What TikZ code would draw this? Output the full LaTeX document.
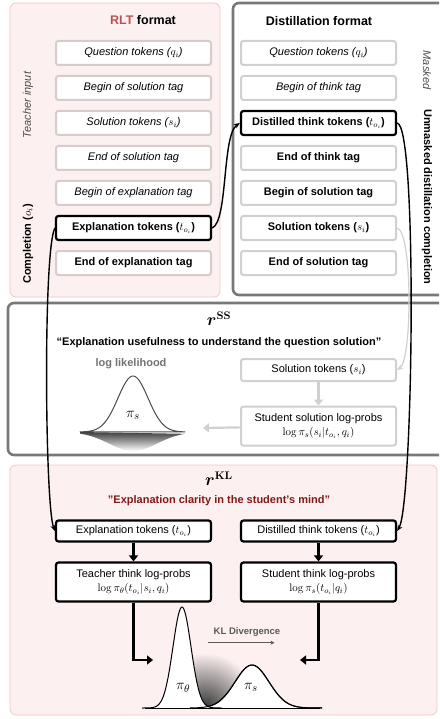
\documentclass[tikz,border=0pt]{standalone}
\usepackage{amsmath,amssymb}
\usepackage[no-math]{fontspec}
\setmainfont{Liberation Sans}
\usetikzlibrary{arrows.meta,positioning,calc}
\definecolor{rltpink}{RGB}{252,240,240}
\definecolor{rltedge}{RGB}{240,200,200}
\definecolor{rltred}{RGB}{192,80,77}
\definecolor{quotered}{RGB}{130,25,25}
\definecolor{panelgray}{RGB}{120,120,120}
\definecolor{boxgray}{RGB}{208,208,208}
\definecolor{rltboxgray}{RGB}{214,204,204}
\definecolor{softgray}{RGB}{115,115,115}
\tikzset{
  rltpanel/.style={draw=rltedge, fill=rltpink, line width=0.8pt, rounded corners=6pt},
  graypanel/.style={draw=panelgray, fill=white, line width=2.6pt, rounded corners=6pt},
  tokbox/.style={draw=boxgray, fill=white, line width=2pt, rounded corners=2.5pt,
    minimum width=155pt, minimum height=24pt, inner sep=1pt,
    font=\fontsize{11}{13}\selectfont},
  itbox/.style={tokbox, font=\itshape\fontsize{11}{13}\selectfont},
  bfbox/.style={tokbox, font=\bfseries\fontsize{11}{13}\selectfont},
  keybox/.style={draw=black, line width=2.2pt},
  klbox/.style={tokbox, draw=black, line width=2.2pt, minimum height=21pt},
  titletxt/.style={inner sep=0pt, font=\bfseries\fontsize{12.5}{14}\selectfont},
  quotetxt/.style={inner sep=0pt, font=\bfseries\fontsize{11}{13}\selectfont},
  sidetxt/.style={inner sep=0pt, font=\fontsize{11}{13}\selectfont},
  rtxt/.style={inner sep=0pt, font=\fontsize{16}{18}\selectfont},
  pitxt/.style={inner sep=0pt, font=\fontsize{15}{17}\selectfont},
  link/.style={-{Stealth[length=6pt,width=5pt]}, line width=1.4pt, black},
  softlink/.style={-{Stealth[length=6pt,width=5pt]}, line width=1.2pt, boxgray},
  grayarr/.style={-{Triangle[length=6pt,width=9pt]}, line width=2.2pt, boxgray},
  blackarr/.style={-{Triangle[length=6pt,width=9pt]}, line width=2.2pt, black},
  bellln/.style={line width=1pt, line join=round},
}

\begin{document}
\begin{tikzpicture}[x=1pt, y=-1pt]
  \clip (0,0) rectangle (439,719);
  % Panels
  \draw[rltpanel] (10,3) rectangle (220,297);
  \draw[graypanel] (233,3) rectangle (470,295);
  \draw[graypanel] (8,303) rectangle (470,455);
  \draw[rltpanel] (10,465) rectangle (437,715);

  % RLT format column
  \node[titletxt] (rlt-title) at (143,20) {\textcolor{rltred}{RLT} format};
  \node[itbox, draw=rltboxgray] (rlt-q) at (133.5,53) {Question tokens ($q_i$)};
  \node[itbox, draw=rltboxgray] (rlt-bsol) at (133.5,88) {Begin of solution tag};
  \node[itbox, draw=rltboxgray] (rlt-sol) at (133.5,123) {Solution tokens ($s_i$)};
  \node[itbox, draw=rltboxgray] (rlt-esol) at (133.5,158) {End of solution tag};
  \node[itbox, draw=rltboxgray] (rlt-bexp) at (133.5,193) {Begin of explanation tag};
  \node[bfbox, keybox] (rlt-expl) at (133.5,228) {Explanation tokens ($t_{o_i}$)};
  \node[bfbox, draw=rltboxgray] (rlt-eexp) at (133.5,263) {End of explanation tag};
  \node[sidetxt, rotate=90, font=\itshape\fontsize{11}{13}\selectfont, text=black!70] (lbl-teacher) at (28,105) {Teacher input};
  \node[sidetxt, rotate=90, font=\bfseries\fontsize{11}{13}\selectfont] (lbl-compl) at (28,244) {Completion ($o_i$)};

  % Distillation format column
  \node[titletxt] (dist-title) at (319,21) {Distillation format};
  \node[itbox] (dist-q) at (318.5,53) {Question tokens ($q_i$)};
  \node[itbox] (dist-bthink) at (318.5,88) {Begin of think tag};
  \node[bfbox, keybox] (dist-think) at (318.5,123) {Distilled think tokens ($t_{o_i}$)};
  \node[bfbox] (dist-ethink) at (318.5,158) {End of think tag};
  \node[bfbox] (dist-bsol) at (318.5,193) {Begin of solution tag};
  \node[bfbox] (dist-sol) at (318.5,228) {Solution tokens ($s_i$)};
  \node[bfbox] (dist-esol) at (318.5,263) {End of solution tag};
  \node[sidetxt, rotate=-90, font=\itshape\fontsize{11}{13}\selectfont, text=black!70] (lbl-masked) at (427,70) {Masked};
  \node[sidetxt, rotate=-90, font=\bfseries\fontsize{11}{13}\selectfont] (lbl-unmasked) at (427,197) {Unmasked distillation completion};

  % r^SS panel
  \node[rtxt] (ss-title) at (219,319) {$\boldsymbol{r}^{\mathbf{SS}}$};
  \node[quotetxt] (ss-quote) at (219,343) {``Explanation usefulness to understand the question solution''};
  \node[quotetxt, text=softgray] (ss-ll) at (131,364) {log likelihood};
  \node[tokbox, minimum height=22pt] (ss-sol) at (318.5,370) {Solution tokens ($s_i$)};
  \node[tokbox, minimum height=39pt, align=center] (ss-stud) at (318.5,426)
    {Student solution log-probs\\[1pt] $\log\pi_s(s_i|t_{o_i},q_i)$};
  \coordinate (ss-bell) at (203,428);
  \shade[top color=black!75, bottom color=white, domain=80:185, samples=60]
    (80,432) -- plot (\x, {432+19*exp(-((\x-133)/24)^2/2)}) -- cycle;
  \draw[bellln, fill=white, draw=black!70, domain=80:185, samples=80]
    plot (\x, {432-56*exp(-((\x-133)/15)^2/2)}) -- cycle;
  \node[pitxt] (ss-pi) at (133,415) {$\pi_s$};
  \draw[grayarr] (ss-sol) -- (ss-stud);
  \draw[grayarr] (ss-stud) -- (ss-bell);

  % r^KL panel
  \node[rtxt] (kl-title) at (219,479) {$\boldsymbol{r}^{\mathbf{KL}}$};
  \node[quotetxt, text=quotered] (kl-quote) at (219,501) {"Explanation clarity in the student's mind"};
  \node[klbox] (kl-expl) at (133.5,531) {Explanation tokens ($t_{o_i}$)};
  \node[klbox] (kl-dist) at (318.5,531) {Distilled think tokens ($t_{o_i}$)};
  \node[klbox, minimum height=39pt, align=center] (kl-teach) at (133.5,582)
    {Teacher think log-probs\\[1pt] $\log\pi_\theta(t_{o_i}|s_i,q_i)$};
  \node[klbox, minimum height=39pt, align=center] (kl-stud) at (318.5,582)
    {Student think log-probs\\[1pt] $\log\pi_s(t_{o_i}|q_i)$};
  \coordinate (kl-left) at (153,660);
  \coordinate (kl-right) at (300,660);
  % shaded gap between the two beliefs
  \begin{scope}
    \clip (186,630) rectangle (262,708);
    \shade[inner color=black!80, outer color=rltpink] (204,708) circle (55);
  \end{scope}
  \draw[bellln, fill=white, domain=190:322, samples=80]
    plot (\x, {708-43*exp(-((\x-252)/17)^2/2)});
  \draw[bellln, fill=white, domain=142:222, samples=80]
    plot (\x, {708-101*exp(-((\x-182)/9)^2/2)});
  \draw[bellln, domain=190:322, samples=80]
    plot (\x, {708-43*exp(-((\x-252)/17)^2/2)});
  \draw[bellln] (145,708) -- (320,708);
  \node[pitxt] (kl-pit) at (183,688) {$\pi_\theta$};
  \node[pitxt] (kl-pis) at (251,687) {$\pi_s$};
  \node[quotetxt, text=black!65, font=\bfseries\fontsize{9.5}{11}\selectfont] (kl-div) at (247,632) {KL Divergence};
  \draw[-{Stealth[length=4pt,width=4pt]}, line width=0.8pt, black!65]
    ([xshift=-6pt,yshift=-6pt]kl-div.south west) -- ([xshift=-6pt,yshift=-6pt]kl-div.south east);
  \draw[blackarr] (kl-expl) -- (kl-teach);
  \draw[blackarr] (kl-dist) -- (kl-stud);
  \draw[blackarr] (kl-teach.south) |- (kl-left);
  \draw[blackarr] (kl-stud.south) |- (kl-right);

  % Connectors across panels
  \draw[softlink] (dist-sol.east) .. controls (413,232) and (412,360) .. (ss-sol.east);
  \draw[link] (rlt-expl.east) .. controls (228,222) and (222,135) .. (dist-think.west);
  \draw[link] (rlt-expl.west) .. controls (43,250) and (45,505) .. (kl-expl.west);
  \draw[link] (dist-think.east) .. controls (418,125) and (413,505) .. (kl-dist.east);
\end{tikzpicture}
\end{document}
